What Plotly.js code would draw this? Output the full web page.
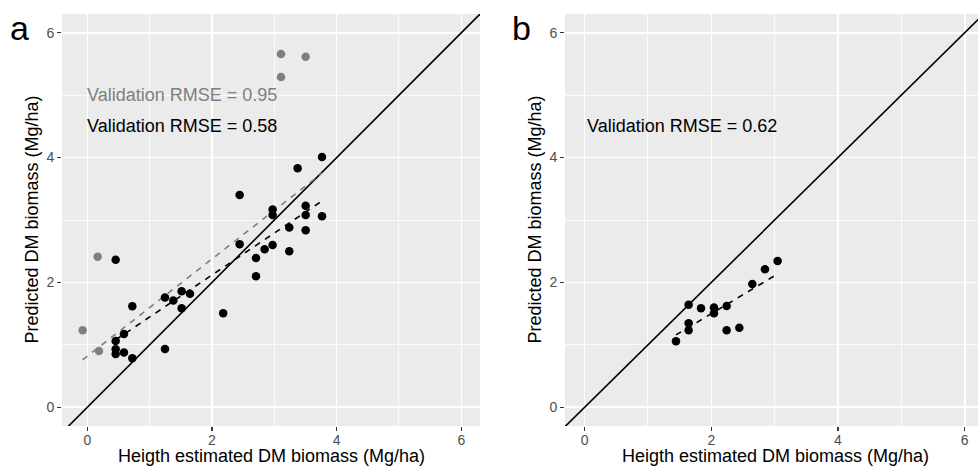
<!DOCTYPE html>
<html>
<head>
<meta charset="utf-8">
<script src="https://cdn.plot.ly/plotly-3.0.1.min.js"></script>
<style>
  html, body { margin: 0; padding: 0; background: #fff; }
  #chart { width: 978px; height: 468px; }
</style>
</head>
<body>
<div id="chart"></div>
<script>
// Panel a: calibration set (black) and extra samples included in the grey fit
const aBlackX = [3.765, 3.374, 2.444, 3.503, 2.973, 2.973, 3.503, 3.765, 3.24, 3.503, 2.444, 2.973, 2.845, 3.24, 2.706, 0.455, 2.706, 1.513, 1.647, 1.246, 1.38, 1.513, 0.722, 2.18, 0.588, 0.455, 0.455, 1.246, 0.455, 0.588, 0.722];
const aBlackY = [4.01, 3.83, 3.40, 3.23, 3.17, 3.08, 3.08, 3.06, 2.88, 2.835, 2.61, 2.60, 2.53, 2.50, 2.39, 2.365, 2.10, 1.86, 1.82, 1.76, 1.71, 1.585, 1.62, 1.506, 1.175, 1.06, 0.93, 0.934, 0.854, 0.876, 0.785];
const aGreyX = [3.107, 3.503, 3.107, 0.166, -0.075, 0.187];
const aGreyY = [5.66, 5.617, 5.29, 2.41, 1.233, 0.90];

// Linear fits for panel a (all samples in grey, black subset in black)
const aFitGreyX = [-0.075, 3.765];
const aFitGreyY = [0.76, 3.75];
const aFitBlackX = [0.455, 3.765];
const aFitBlackY = [1.08, 3.305];

// Panel b: validation samples and their linear fit
const bX = [1.442, 1.642, 1.642, 1.642, 1.837, 2.042, 2.042, 2.242, 2.242, 2.442, 2.647, 2.847, 3.047];
const bY = [1.057, 1.644, 1.345, 1.233, 1.586, 1.60, 1.506, 1.623, 1.233, 1.276, 1.975, 2.21, 2.344];
const bFitX = [1.442, 3.047];
const bFitY = [1.159, 2.136];

// 1:1 reference line (clipped to the panel)
const oneToOne = [-1, 7];

const tickVals = [0, 2, 4, 6];
const tickText = ['0', '2', '4', '6'];

const rmseLabels = [
  {panel: 'a', text: 'Validation RMSE = 0.95', x: -0.04, y: 5.0, color: '#7f7f7f'},
  {panel: 'a', text: 'Validation RMSE = 0.58', x: -0.04, y: 4.5, color: '#000000'},
  {panel: 'b', text: 'Validation RMSE = 0.62', x: 0.0, y: 4.5, color: '#000000'}
];

const X_TITLE = 'Heigth estimated DM biomass (Mg/ha)';
const Y_TITLE = 'Predicted DM biomass (Mg/ha)';

const FONT = '"Liberation Sans", Arial, Helvetica, sans-serif';
const PT = 8.5;
const W = 978, H = 468;

function pts(x, y, color, xa, ya) {
  return {x, y, xaxis: xa, yaxis: ya, type: 'scatter', mode: 'markers',
          marker: {color, size: PT, line: {width: 0}}, hoverinfo: 'x+y'};
}
function line(x, y, color, dash, xa, ya) {
  return {x, y, xaxis: xa, yaxis: ya, type: 'scatter', mode: 'lines',
          line: {color, width: 1.6, dash}, hoverinfo: 'skip'};
}

const traces = [
  line(oneToOne, oneToOne, '#000', 'solid', 'x', 'y'),
  line(aFitGreyX, aFitGreyY, '#7f7f7f', '6px,6px', 'x', 'y'),
  pts(aGreyX, aGreyY, '#7f7f7f', 'x', 'y'),
  pts(aBlackX, aBlackY, '#000', 'x', 'y'),
  line(aFitBlackX, aFitBlackY, '#000', '6px,6px', 'x', 'y'),
  line(oneToOne, oneToOne, '#000', 'solid', 'x2', 'y2'),
  pts(bX, bY, '#000', 'x2', 'y2'),
  line(bFitX, bFitY, '#000', '6px,6px', 'x2', 'y2')
];

function baseAxis(domain, range, anchor, labelShift) {
  return {
    domain, range, anchor,
    tickvals: tickVals, ticktext: tickText,
    ticks: 'outside', ticklen: 4, tickwidth: 1.1, tickcolor: '#333333',
    tickfont: {family: FONT, size: 14, color: '#4d4d4d'},
    ticklabelstandoff: labelShift,
    showgrid: true, gridcolor: '#ffffff', gridwidth: 1.6,
    minor: {dtick: 1, tick0: 1, showgrid: true, gridcolor: '#ffffff', gridwidth: 0.8, ticks: ''},
    zeroline: false, showline: false
  };
}

const annotations = rmseLabels.map(l => ({
  xref: l.panel === 'a' ? 'x' : 'x2', yref: l.panel === 'a' ? 'y' : 'y2',
  x: l.x, y: l.y, text: l.text, showarrow: false,
  xanchor: 'left', yanchor: 'middle',
  font: {family: FONT, size: 18, color: l.color}
}));

// Axis titles placed in page pixels so they sit just under / beside the tick labels
const titleFont = {family: FONT, size: 18, color: '#000'};
[271, 775].forEach(cx => annotations.push({
  xref: 'paper', yref: 'paper', x: cx / W, y: 0, yanchor: 'bottom',
  text: X_TITLE, showarrow: false, xanchor: 'center', font: titleFont
}));
[31.5, 534.5].forEach(cx => annotations.push({
  xref: 'paper', yref: 'paper', x: cx / W, y: 1 - 220 / H,
  text: Y_TITLE, textangle: -90, showarrow: false, xanchor: 'center', yanchor: 'middle', font: titleFont
}));

// Panel letters
annotations.push(
  {xref: 'paper', yref: 'paper', x: 0.008, y: 0.985, text: 'a', showarrow: false,
   xanchor: 'left', yanchor: 'top', font: {family: FONT, size: 34, color: '#000'}},
  {xref: 'paper', yref: 'paper', x: 0.521, y: 0.985, text: 'b', showarrow: false,
   xanchor: 'left', yanchor: 'top', font: {family: FONT, size: 34, color: '#000'}}
);

const layout = {
  width: W, height: H,
  margin: {l: 0, r: 0, t: 0, b: 0},
  paper_bgcolor: '#ffffff', plot_bgcolor: '#ebebeb',
  showlegend: false,
  font: {family: FONT},
  xaxis: baseAxis([0.0634, 0.4908], [-0.406, 6.30], 'y', -3),
  yaxis: baseAxis([0.0897, 0.9701], [-0.30, 6.30], 'x', 0),
  xaxis2: baseAxis([0.5777, 1.0], [-0.31, 6.21], 'y2', -3),
  yaxis2: baseAxis([0.0897, 0.9701], [-0.30, 6.30], 'x2', 0),
  annotations
};

Plotly.newPlot('chart', traces, layout, {displayModeBar: false, staticPlot: true});
</script>
</body>
</html>
